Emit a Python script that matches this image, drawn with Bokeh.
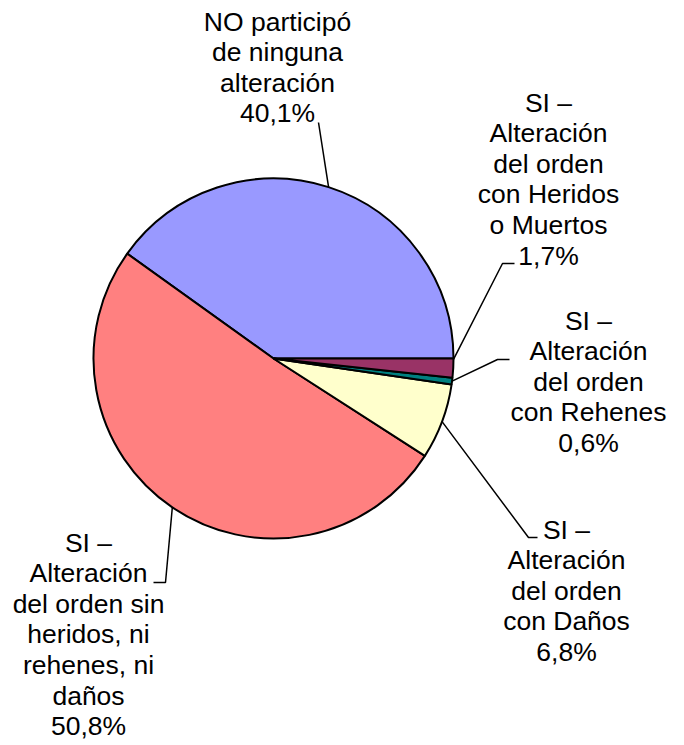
import math
from bokeh.plotting import figure
from bokeh.models import Range1d, ColumnDataSource
from bokeh.embed import file_html
from bokeh.resources import INLINE
from bokeh.core.properties import value

# ---- data ----
categories = [
    "NO participó\nde ninguna\nalteración",
    "SI –\nAlteración\ndel orden sin\nheridos, ni\nrehenes, ni\ndaños",
    "SI –\nAlteración\ndel orden\ncon Daños",
    "SI –\nAlteración\ndel orden\ncon Rehenes",
    "SI –\nAlteración\ndel orden\ncon Heridos\no Muertos",
]
shares = [40.1, 50.8, 6.8, 0.6, 1.7]
colors = ["#9999FF", "#FF8080", "#FFFFCC", "#008080", "#993366"]

# ---- layout (screen pixels) ----
W, H = 684, 745
def Y(s):
    return H - s

CX, CY_S, R = 273, 358, 180
label_x = [277, 88, 566, 588, 548]
label_first_baseline = [21, 542, 529, 320, 102]
line_pitch = 30.6
# where along each slice's arc the leader line starts (0 = start, 1 = end)
leader_anchor = [0.5, 0.5, 0.5, 0.5, 0.95]
leader_tail = [
    [(318, 122)],
    [(165, 582), (153, 582)],
    [(528, 537), (537, 537)],
    [(497, 359), (509, 359)],
    [(502, 263), (514, 263)],
]

p = figure(width=W, height=H, x_range=Range1d(0, W), y_range=Range1d(0, H),
           output_backend="svg", toolbar_location=None, min_border=0)
p.axis.visible = False
p.grid.visible = False
p.outline_line_color = None
p.background_fill_color = "white"
p.border_fill_color = "white"

total = sum(shares)
starts, ends = [], []
acc = 0.0
for v in shares:
    a0 = acc / total * 2 * math.pi
    acc += v
    a1 = acc / total * 2 * math.pi
    starts.append(a0)
    ends.append(a1)

src = ColumnDataSource(dict(start=starts, end=ends, color=colors))
p.wedge(x=CX, y=Y(CY_S), radius=R, start_angle="start", end_angle="end",
        fill_color="color", line_color="black", line_width=2, source=src)

# leader lines
lx, ly = [], []
for a0, a1, f, tail in zip(starts, ends, leader_anchor, leader_tail):
    m = a0 + (a1 - a0) * f
    xs = [CX + R * math.cos(m)] + [t[0] for t in tail]
    ys = [Y(CY_S) + R * math.sin(m)] + [Y(t[1]) for t in tail]
    lx.append(xs)
    ly.append(ys)
p.multi_line(xs=lx, ys=ly, line_color="black", line_width=1.5)

# labels
tx, ty, tt = [], [], []
for cat, v, x0, b0 in zip(categories, shares, label_x, label_first_baseline):
    lines = cat.split("\n") + [f"{v:.1f}".replace(".", ",") + "%"]
    for i, ln in enumerate(lines):
        tx.append(x0)
        ty.append(Y(b0 + i * line_pitch))
        tt.append(ln)
p.text(x=tx, y=ty, text=tt, text_font=value("Liberation Sans"), text_font_size="26.5px",
       text_align="center", text_baseline="alphabetic", text_color="black")

open("out.html", "w").write(file_html(p, INLINE))
